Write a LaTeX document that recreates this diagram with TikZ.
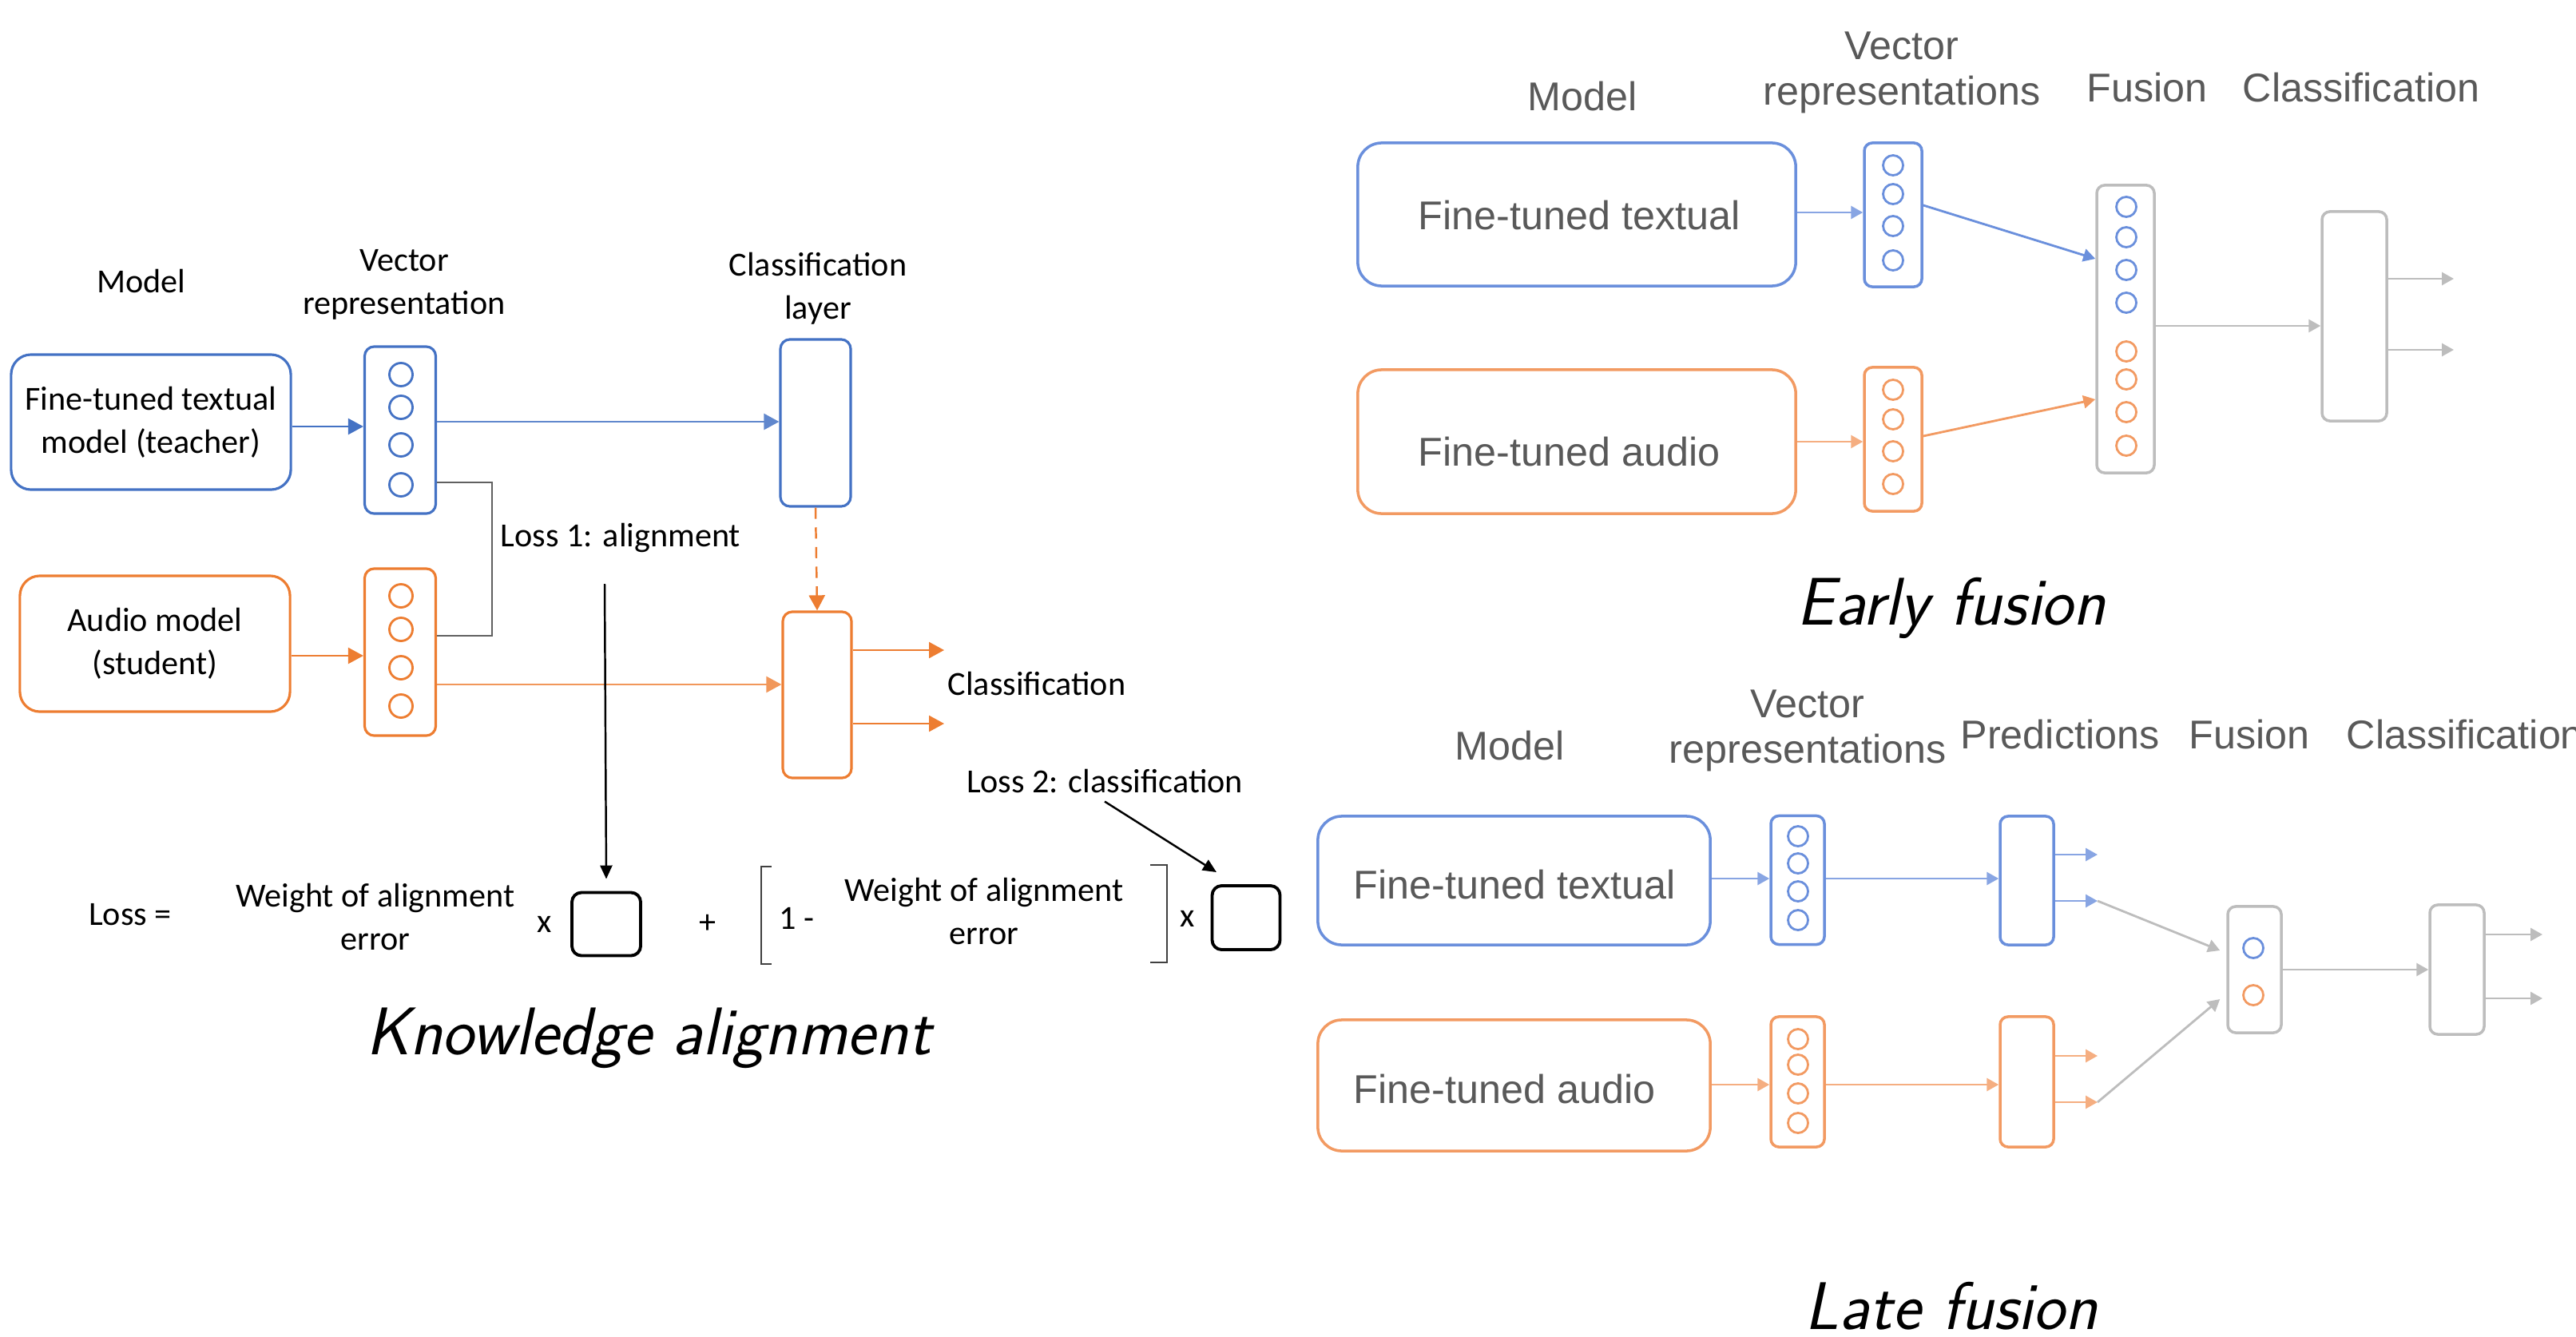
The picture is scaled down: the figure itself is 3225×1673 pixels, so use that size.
\documentclass[tikz,border=0pt]{standalone}
\usepackage{fontspec}
\newfontfamily\lfont{Carlito}
\newfontfamily\rfont{Liberation Sans}
\usetikzlibrary{arrows.meta,calc}
\definecolor{kblue}{HTML}{4472C4}
\definecolor{korange}{HTML}{ED7D31}
\definecolor{fblue}{HTML}{6A8FDC}
\definecolor{forange}{HTML}{F29A62}
\definecolor{fgray}{HTML}{BDBDBD}
\definecolor{ftext}{HTML}{595959}
\definecolor{kgray}{HTML}{606060}
\begin{document}
\begin{tikzpicture}[x=0.01cm,y=-0.01cm,
  ltxt/.style={font=\lfont\fontsize{12}{15.4}\selectfont, text=black, inner sep=0pt, align=center},
  rtxt/.style={font=\rfont\fontsize{14.3}{16.2}\selectfont, text=ftext, inner sep=0pt, align=center},
  ttl/.style={font=\sffamily\itshape\fontsize{24}{28}\selectfont, text=black, inner sep=0pt},
  lbox/.style={draw, line width=0.9pt, rounded corners=0.25cm, inner sep=0pt},
  lvbox/.style={draw, line width=0.9pt, rounded corners=0.12cm, inner sep=0pt, minimum width=0.89cm},
  lcirc/.style={circle, draw, line width=0.8pt, minimum size=0.29cm, inner sep=0pt},
  rbox/.style={draw, line width=1pt, rounded corners=0.3cm, inner sep=0pt},
  rvbox/.style={draw, line width=1pt, rounded corners=0.1cm, inner sep=0pt},
  rcirc/.style={circle, draw, line width=0.8pt, minimum size=0.25cm, inner sep=0pt},
  arl/.style={line width=0.7pt, -{Triangle[length=0.19cm,width=0.2cm]}},
  arr/.style={line width=0.8pt, -{Triangle[length=0.15cm,width=0.16cm]}},
  fbox/.style={draw=black, line width=1.1pt, rounded corners=0.12cm, inner sep=0pt}
]
\useasboundingbox (0,0) rectangle (3225,1673);

%% ================= Knowledge alignment =================
\node[ltxt] (hmodel) at (177,352) {Model};
\node[ltxt] (hvec) at (506,356) {Vector\\representation};
\node[ltxt] (hcls) at (1024,361) {Classification\\layer};

\node[lbox, draw=kblue, minimum width=3.5cm, minimum height=1.69cm, ltxt] (teacher) at (189,528.5) {Fine-tuned textual\\model (teacher)};
\node[lbox, draw=korange, minimum width=3.38cm, minimum height=1.70cm, ltxt] (audio) at (194,806) {Audio model\\(student)};

\node[lvbox, draw=kblue, minimum height=2.09cm] (tvec) at (501,538.5) {};
\node[lvbox, draw=korange, minimum height=2.09cm] (avec) at (501,816.5) {};
\foreach \y [count=\i] in {469,510,557,607} \node[lcirc, draw=kblue] (tc\i) at (502,\y) {};
\foreach \y [count=\i] in {746,788,836,884} \node[lcirc, draw=korange] (ac\i) at (502,\y) {};

\node[lvbox, draw=kblue, minimum width=0.88cm, minimum height=2.09cm] (tcls) at (1021,529.5) {};
\node[lvbox, draw=korange, minimum width=0.86cm, minimum height=2.08cm] (ocls) at (1023,870) {};

\draw[arl, kblue] (teacher.east |- 0,534) -- (tvec.west |- 0,534);
\draw[arl, korange] (audio.east |- 0,821) -- (avec.west |- 0,821);
\draw[arl, kblue!85] (tvec.east |- 0,528) -- (tcls.west |- 0,528);
\draw[arl, korange!80] (avec.east |- 0,857) -- (ocls.west |- 0,857);
\draw[arl, korange, dashed, dash pattern=on 4pt off 3pt] (tcls.south) -- (ocls.north);
\coordinate (oo1) at (1182,814);
\coordinate (oo2) at (1182,906);
\draw[arl, korange] (ocls.east |- oo1) -- (oo1);
\draw[arl, korange] (ocls.east |- oo2) -- (oo2);
\node[ltxt, anchor=west] (clslab) at (1186,856) {Classification};

\draw[kgray, line width=0.8pt] (tvec.east |- 0,604) -- (616,604) -- (616,796) -- (avec.east |- 0,796);
\node[ltxt] (loss1) at (777,673) {Loss 1: alignment};

% formula
\node[ltxt] (losseq) at (163,1145) {Loss =};
\node[ltxt] (w1) at (470,1148) {Weight of alignment\\error};
\node[ltxt] (x1) at (682,1157) {x};
\node[fbox, minimum width=0.86cm, minimum height=0.79cm] (b1) at (759,1157) {};
\node[ltxt] (plus) at (886,1157) {+};
\draw[black!75, line width=0.7pt] (966,1085) -- (953,1085) -- (953,1207) -- (966,1207);
\node[ltxt] (one) at (997,1150) {1 -};
\node[ltxt] (w2) at (1232,1141) {Weight of alignment\\error};
\draw[black!75, line width=0.7pt] (1440,1083) -- (1461,1083) -- (1461,1205) -- (1440,1205);
\node[ltxt] (x2) at (1487,1150) {x};
\node[fbox, minimum width=0.85cm, minimum height=0.80cm] (b2) at (1560,1149) {};
\node[ltxt] (loss2) at (1383,978) {Loss 2: classification};

\coordinate (l1top) at (757,731);
\draw[line width=0.7pt, -{Triangle[length=0.17cm,width=0.15cm]}] (l1top) -- ([yshift=0.15cm]b1.north);
\draw[line width=0.7pt, -{Triangle[length=0.17cm,width=0.15cm]}] ([yshift=-0.1cm]loss2.south) -- ([xshift=-0.37cm,yshift=0.15cm]b2.north);

\node[ttl] (ka) at (812,1300) {Knowledge alignment};

%% ================= Early fusion =================
\node[rtxt] (emodel) at (1981,121) {Model};
\node[rtxt] (evec) at (2381,91) {Vector\\representations};
\node[rtxt] (efus) at (2688,110) {Fusion};
\node[rtxt] (ecls) at (2956,110) {Classification};

\node[rbox, draw=fblue, minimum width=5.48cm, minimum height=1.79cm] (etext) at (1974,268.5) {};
\node[rtxt, anchor=west] (etextlab) at ([xshift=0.77cm,yshift=-0.015cm]etext.west) {Fine-tuned textual};
\node[rbox, draw=forange, minimum width=5.48cm, minimum height=1.80cm] (eaudio) at (1974,553) {};
\node[rtxt, anchor=west] (eaudiolab) at ([xshift=0.77cm,yshift=-0.13cm]eaudio.west) {Fine-tuned audio};

\node[rvbox, draw=fblue, minimum width=0.72cm, minimum height=1.80cm] (ebvec) at (2370,269) {};
\node[rvbox, draw=forange, minimum width=0.72cm, minimum height=1.80cm] (eovec) at (2370,550) {};
\foreach \y [count=\i] in {207,243,283,326} \node[rcirc, draw=fblue] (ebc\i) at (2370,\y) {};
\foreach \y [count=\i] in {488,525,565,606} \node[rcirc, draw=forange] (eoc\i) at (2370,\y) {};

\node[rvbox, draw=fgray, minimum width=0.72cm, minimum height=3.60cm] (efusbox) at (2661,412) {};
\foreach \y [count=\i] in {259,297,338,379} \node[rcirc, draw=fblue] (efb\i) at (2662,\y) {};
\foreach \y [count=\i] in {440,475,516,558} \node[rcirc, draw=forange] (efo\i) at (2662,\y) {};

\node[rvbox, draw=fgray, minimum width=0.81cm, minimum height=2.62cm] (eclsbox) at (2947.5,396) {};

\draw[arr, fblue!80] (etext.east |- 0,266) -- (ebvec.west |- 0,266);
\draw[arr, forange!80] (eaudio.east |- 0,553) -- (eovec.west |- 0,553);
\draw[arr, fblue] (ebvec.east |- 0,257) -- (efusbox.west |- 0,324);
\draw[arr, forange] (eovec.east |- 0,546) -- (efusbox.west |- 0,500);
\draw[arr, fgray] (efusbox.east |- 0,408) -- (eclsbox.west |- 0,408);
\coordinate (eo1) at (3072,349);
\coordinate (eo2) at (3072,438);
\draw[arr, fgray] (eclsbox.east |- eo1) -- (eo1);
\draw[arr, fgray] (eclsbox.east |- eo2) -- (eo2);

\node[ttl] (ef) at (2443,761) {Early fusion};

%% ================= Late fusion =================
\node[rtxt] (lmodel) at (1890,934) {Model};
\node[rtxt] (lvec) at (2263,915) {Vector\\representations};
\node[rtxt] (lpred) at (2579,920) {Predictions};
\node[rtxt] (lfush) at (2816,920) {Fusion};
\node[rtxt, anchor=west] (lclsh) at (2937,920) {Classification};

\node[rbox, draw=fblue, minimum width=4.91cm, minimum height=1.61cm] (ltext) at (1895.5,1102.5) {};
\node[rtxt, anchor=west] (ltextlab) at ([xshift=0.46cm,yshift=-0.05cm]ltext.west) {Fine-tuned textual};
\node[rbox, draw=forange, minimum width=4.91cm, minimum height=1.64cm] (laudio) at (1895.5,1359) {};
\node[rtxt, anchor=west] (laudiolab) at ([xshift=0.46cm,yshift=-0.05cm]laudio.west) {Fine-tuned audio};

\node[rvbox, draw=fblue, minimum width=0.67cm, minimum height=1.61cm] (lbvec) at (2250.5,1102) {};
\node[rvbox, draw=forange, minimum width=0.67cm, minimum height=1.63cm] (lovec) at (2250.5,1354.5) {};
\foreach \y [count=\i] in {1047,1081,1116,1152} \node[rcirc, draw=fblue] (lbc\i) at (2251,\y) {};
\foreach \y [count=\i] in {1301,1333,1369,1406} \node[rcirc, draw=forange] (loc\i) at (2251,\y) {};

\node[rvbox, draw=fblue, minimum width=0.67cm, minimum height=1.61cm] (lbpred) at (2537.5,1102.5) {};
\node[rvbox, draw=forange, minimum width=0.67cm, minimum height=1.63cm] (lopred) at (2537.5,1354.5) {};

\node[rvbox, draw=fgray, minimum width=0.67cm, minimum height=1.58cm] (lfus) at (2822.5,1214) {};
\node[rcirc, draw=fblue] (lfb) at (2821,1187) {};
\node[rcirc, draw=forange] (lfo) at (2821,1246) {};
\node[rvbox, draw=fgray, minimum width=0.68cm, minimum height=1.62cm] (lcls) at (3076,1214) {};

\draw[arr, fblue!80] (ltext.east |- 0,1100) -- (lbvec.west |- 0,1100);
\draw[arr, fblue!80] (lbvec.east |- 0,1100) -- (lbpred.west |- 0,1100);
\draw[arr, forange!80] (laudio.east |- 0,1358) -- (lovec.west |- 0,1358);
\draw[arr, forange!80] (lovec.east |- 0,1358) -- (lopred.west |- 0,1358);
\coordinate (lb1) at (2626,1070);
\coordinate (lb2) at (2626,1128);
\coordinate (lo1) at (2626,1322);
\coordinate (lo2) at (2626,1380);
\draw[arr, fblue!80] (lbpred.east |- lb1) -- (lb1);
\draw[arr, fblue!80] (lbpred.east |- lb2) -- (lb2);
\draw[arr, forange!80] (lopred.east |- lo1) -- (lo1);
\draw[arr, forange!80] (lopred.east |- lo2) -- (lo2);
\draw[arr, fgray] (lb2) -- ([xshift=-0.08cm]lfus.west |- 0,1190);
\draw[arr, fgray] (lo2) -- ([xshift=-0.08cm]lfus.west |- 0,1251);
\draw[arr, fgray] (lfus.east |- 0,1214) -- (lcls.west |- 0,1214);
\coordinate (lc1) at (3183,1170);
\coordinate (lc2) at (3183,1250);
\draw[arr, fgray] (lcls.east |- lc1) -- (lc1);
\draw[arr, fgray] (lcls.east |- lc2) -- (lc2);

\node[ttl] (lf) at (2443,1635) {Late fusion};
\end{tikzpicture}
\end{document}
